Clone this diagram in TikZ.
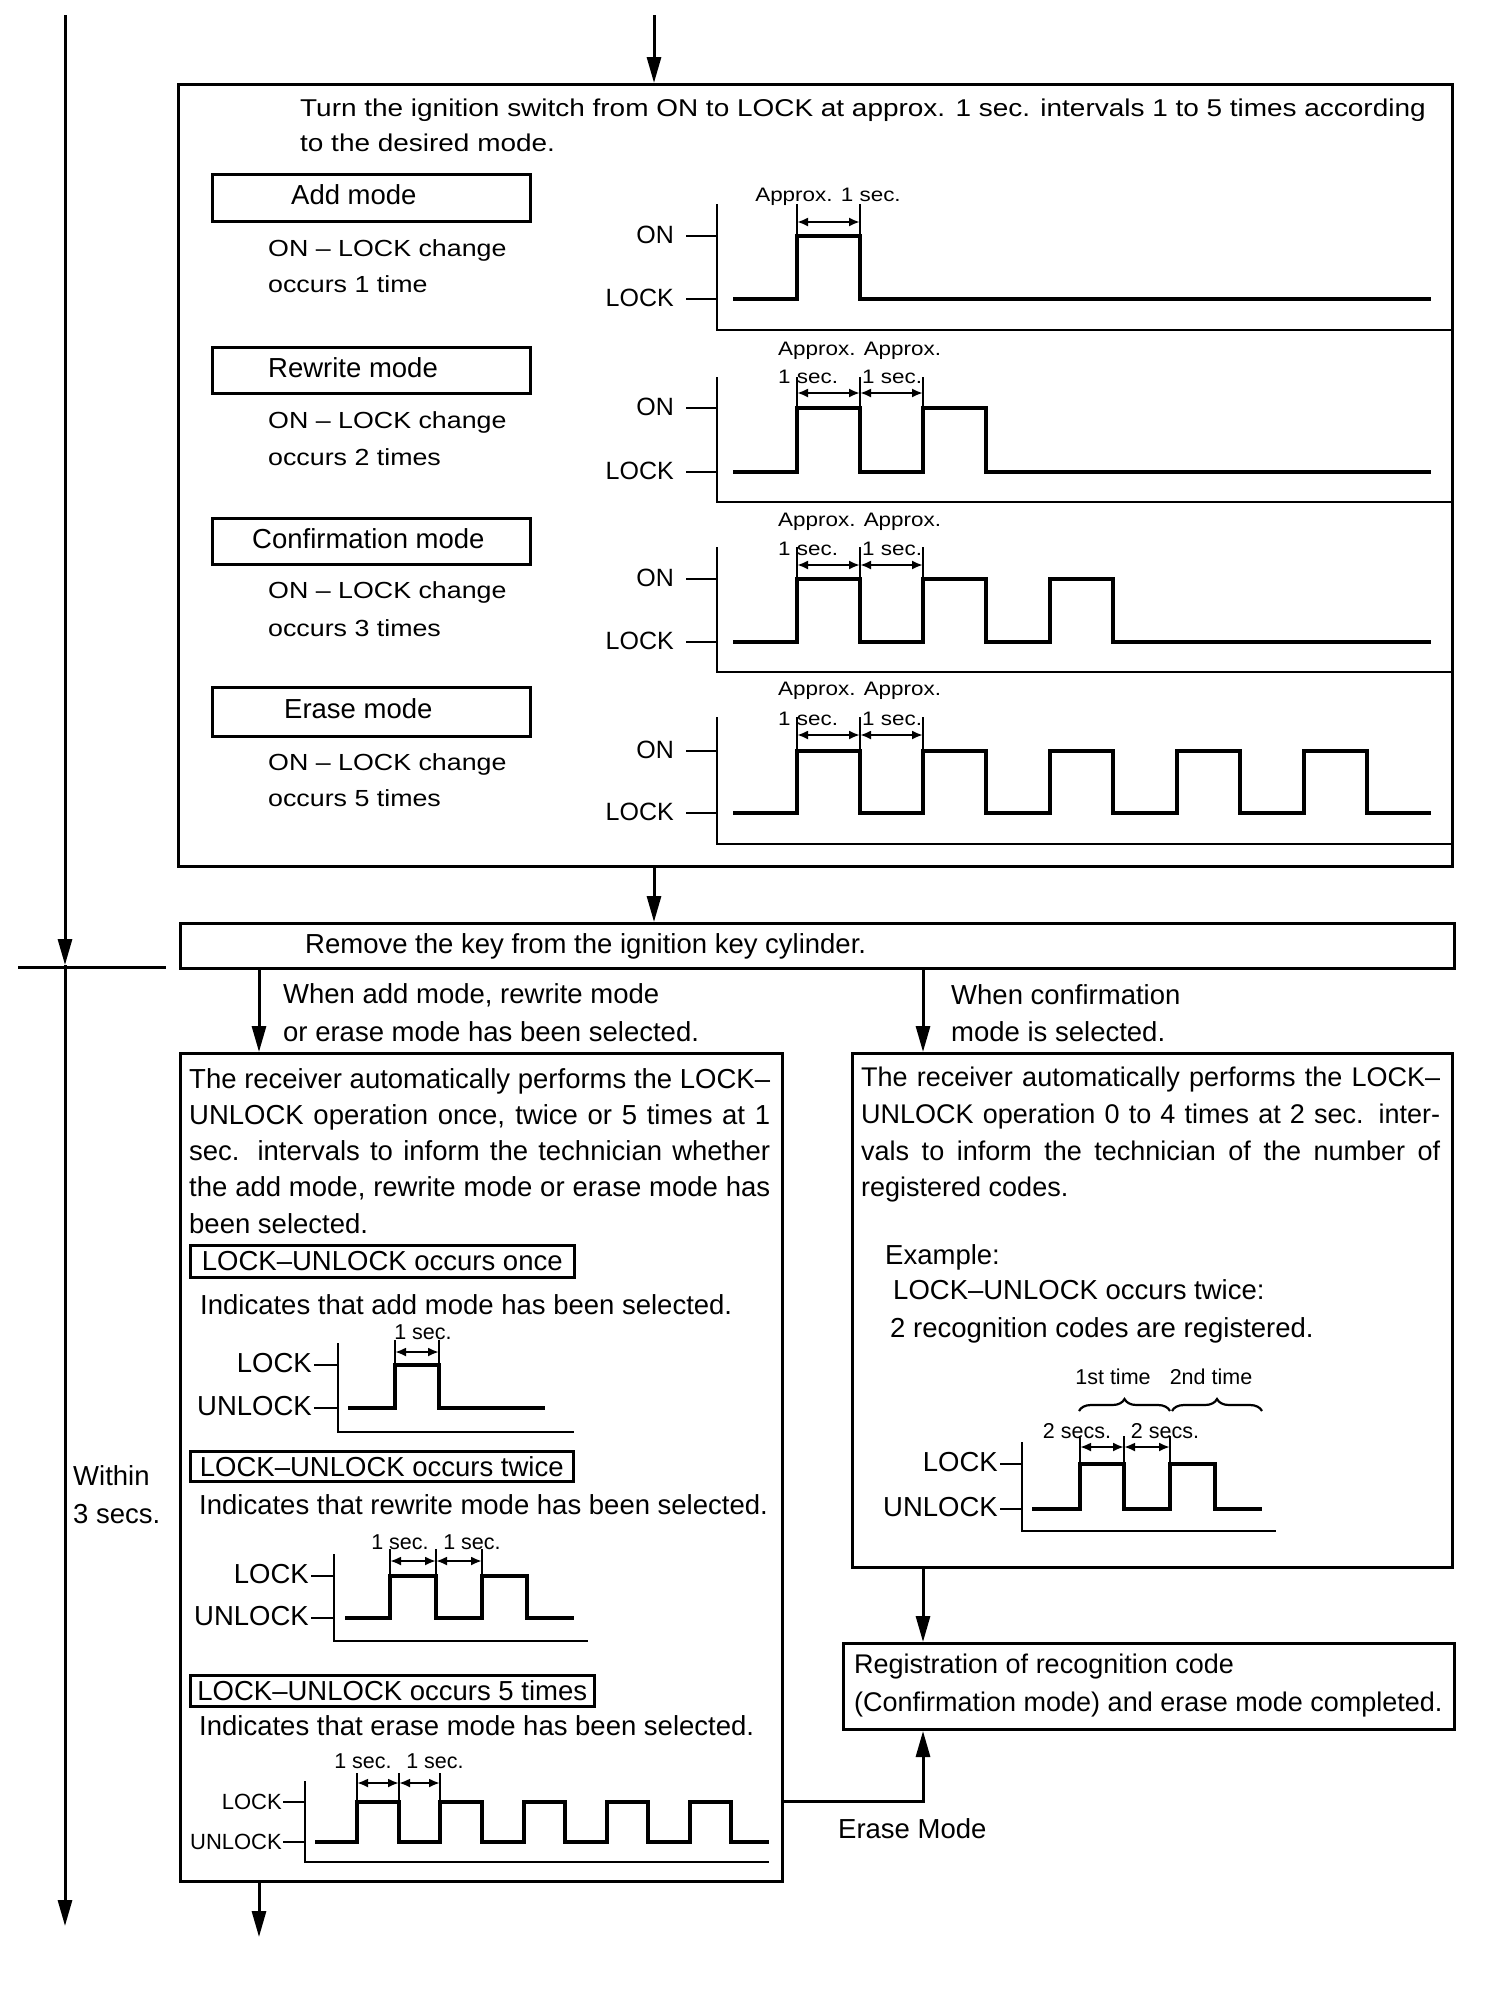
\documentclass[tikz,border=0pt]{standalone}
\usepackage{fontspec}
\setmainfont{Liberation Sans}
\newfontfamily\mywide[FakeStretch=1.15]{Liberation Sans}
\usetikzlibrary{arrows.meta,decorations.pathreplacing}
\newcommand\myBody{\fontsize{27.5}{36}\selectfont}
\newcommand\myRight{\fontsize{27}{36}\selectfont}
\newcommand\myTop{\mywide\fontsize{24.3}{30}\selectfont}
\newcommand\myMode{\mywide\fontsize{23.3}{30}\selectfont}
\newcommand\myApx{\mywide\fontsize{19.5}{24}\selectfont}
\newcommand\mySec{\fontsize{21.5}{26}\selectfont}
\newcommand\myLbl{\fontsize{25}{30}\selectfont}
\newcommand\mySmall{\fontsize{22}{26}\selectfont}
\tikzset{
 box/.style={draw, line width=3pt, inner sep=0pt, anchor=north west},
 tbox/.style={draw, line width=2.6pt, inner sep=0pt, anchor=north west, font=\myBody},
 conn/.style={line width=3pt, -{Triangle[length=26pt,width=14pt]}},
 plain/.style={line width=3pt},
 sig/.style={line width=3.4pt},
 ax/.style={line width=2.8pt},
 dimv/.style={line width=2.2pt},
 dima/.style={line width=2.4pt, {Latex[length=11pt,width=9pt]}-{Latex[length=11pt,width=9pt]}},
 txt/.style={inner sep=0pt, anchor=mid west, font=\myBody, yshift=-6pt},
 lbl/.style={inner sep=0pt, anchor=mid east, yshift=-5pt},
 ctr/.style={inner sep=0pt, anchor=mid, yshift=-5pt},
 brc/.style={line width=2.2pt, decorate, decoration={brace, amplitude=12pt}},
}
\begin{document}
\begin{tikzpicture}[x=1pt,y=-1pt]
\fill[white] (0,0) rectangle (1504,1992);
\useasboundingbox (0,0) rectangle (1504,1992);

% ---------- main boxes ----------
\node[box, minimum width=1274pt, minimum height=782pt] (topbox) at (177,83) {};
\node[box, minimum width=1274pt, minimum height=45pt] (remove) at (179,922) {};
\node[box, minimum width=602pt, minimum height=828pt] (leftbox) at (179,1052) {};
\node[box, minimum width=600pt, minimum height=514pt] (rightbox) at (851,1052) {};
\node[box, minimum width=611pt, minimum height=86pt] (regbox) at (842,1642) {};

% ---------- connectors ----------
\coordinate (topin) at (654,15);
\draw[conn] (topin) -- (topin |- topbox.north);
\coordinate (c1) at (654,0);
\draw[conn] (topbox.south -| c1) -- (remove.north -| c1);
\coordinate (c2) at (259,0);
\draw[conn] (remove.south -| c2) -- (leftbox.north -| c2);
\coordinate (c3) at (923,0);
\draw[conn] (remove.south -| c3) -- (rightbox.north -| c3);
\draw[conn] (rightbox.south -| c3) -- (regbox.north -| c3);
\coordinate (em) at (923,1801);
\draw[conn] (leftbox.east |- em) -- (em) -- (regbox.south -| em);
\coordinate (lbout) at (259,1937);
\draw[conn] (leftbox.south -| lbout) -- (lbout);
\coordinate (ls) at (65,15);
\coordinate (lm) at (65,965);
\coordinate (le) at (65,1926);
\draw[conn] (ls) -- (lm);
\draw[conn] (lm) -- (le);
\coordinate (sepa) at (18,967);
\coordinate (sepb) at (166,967);
\draw[plain] (sepa) -- (sepb);

% ---------- top box texts ----------
\node[txt, font=\myTop] (t1) at (300,108) {Turn the ignition switch from ON to LOCK at approx. 1 sec. intervals 1 to 5 times according};
\node[txt, font=\myTop] (t2) at (300,143) {to the desired mode.};

\node[box, line width=3pt, minimum width=318pt, minimum height=47pt] (mb1) at (211,173) {};
\node[box, line width=3pt, minimum width=318pt, minimum height=46pt] (mb2) at (211,346) {};
\node[box, line width=3pt, minimum width=318pt, minimum height=46pt] (mb3) at (211,517) {};
\node[box, line width=3pt, minimum width=318pt, minimum height=49pt] (mb4) at (211,686) {};
\node[txt] (mt1) at (291,196) {Add mode};
\node[txt] (mt2) at (268,369) {Rewrite mode};
\node[txt] (mt3) at (252,540) {Confirmation mode};
\node[txt] (mt4) at (284,710) {Erase mode};

\node[txt, font=\myMode] (d1a) at (268,248) {ON – LOCK change};
\node[txt, font=\myMode] (d1b) at (268,284) {occurs 1 time};
\node[txt, font=\myMode] (d2a) at (268,420) {ON – LOCK change};
\node[txt, font=\myMode] (d2b) at (268,457) {occurs 2 times};
\node[txt, font=\myMode] (d3a) at (268,590) {ON – LOCK change};
\node[txt, font=\myMode] (d3b) at (268,628) {occurs 3 times};
\node[txt, font=\myMode] (d4a) at (268,762) {ON – LOCK change};
\node[txt, font=\myMode] (d4b) at (268,798) {occurs 5 times};

% ---------- top chart 1 ----------
\draw[ax] (717,204) -- (717,330) -- (1451,330);
\draw[ax] (686,236) -- (717,236) (686,299) -- (717,299);
\node[lbl, font=\myLbl] (on1) at (674,236) {ON};
\node[lbl, font=\myLbl] (lk1) at (674,299) {LOCK};
\draw[sig] (733,299) -- (797,299) -- (797,236) -- (860,236) -- (860,299) -- (1431,299);
\draw[dimv] (797,204) -- (797,236) (860,204) -- (860,236);
\draw[dima] (797,222) -- (860,222);
\node[ctr, font=\myApx] (a1) at (828,194) {Approx. 1 sec.};

% ---------- top chart 2 ----------
\draw[ax] (717,377) -- (717,502) -- (1451,502);
\draw[ax] (686,408) -- (717,408) (686,472) -- (717,472);
\node[lbl, font=\myLbl] (on2) at (674,408) {ON};
\node[lbl, font=\myLbl] (lk2) at (674,472) {LOCK};
\draw[sig] (733,472) -- (797,472) -- (797,408) -- (860,408) -- (860,472) -- (923,472) -- (923,408) -- (986,408) -- (986,472) -- (1431,472);
\draw[dimv] (797,377) -- (797,408) (860,377) -- (860,408) (923,377) -- (923,408);
\draw[dima] (797,393) -- (860,393);
\draw[dima] (860,393) -- (923,393);
\node[txt, font=\myApx] (a2) at (778,347) {Approx. Approx.};
\node[txt, font=\myApx] (a2b) at (778,375) {1 sec.};
\node[txt, font=\myApx] (a2c) at (862,375) {1 sec.};

% ---------- top chart 3 ----------
\draw[ax] (717,547) -- (717,672) -- (1451,672);
\draw[ax] (686,579) -- (717,579) (686,642) -- (717,642);
\node[lbl, font=\myLbl] (on3) at (674,579) {ON};
\node[lbl, font=\myLbl] (lk3) at (674,642) {LOCK};
\draw[sig] (733,642) -- (797,642) -- (797,579) -- (860,579) -- (860,642) -- (923,642) -- (923,579) -- (986,579) -- (986,642) -- (1050,642) -- (1050,579) -- (1113,579) -- (1113,642) -- (1431,642);
\draw[dimv] (797,547) -- (797,579) (860,547) -- (860,579) (923,547) -- (923,579);
\draw[dima] (797,565) -- (860,565);
\draw[dima] (860,565) -- (923,565);
\node[txt, font=\myApx] (a3) at (778,518) {Approx. Approx.};
\node[txt, font=\myApx] (a3b) at (778,547) {1 sec.};
\node[txt, font=\myApx] (a3c) at (862,547) {1 sec.};

% ---------- top chart 4 ----------
\draw[ax] (717,717) -- (717,844) -- (1451,844);
\draw[ax] (686,751) -- (717,751) (686,813) -- (717,813);
\node[lbl, font=\myLbl] (on4) at (674,751) {ON};
\node[lbl, font=\myLbl] (lk4) at (674,813) {LOCK};
\draw[sig] (733,813) -- (797,813) -- (797,751) -- (860,751) -- (860,813) -- (923,813) -- (923,751) -- (986,751) -- (986,813) -- (1050,813) -- (1050,751) -- (1113,751) -- (1113,813) -- (1177,813) -- (1177,751) -- (1240,751) -- (1240,813) -- (1304,813) -- (1304,751) -- (1367,751) -- (1367,813) -- (1431,813);
\draw[dimv] (797,717) -- (797,751) (860,717) -- (860,751) (923,717) -- (923,751);
\draw[dima] (797,735) -- (860,735);
\draw[dima] (860,735) -- (923,735);
\node[txt, font=\myApx] (a4) at (778,687) {Approx. Approx.};
\node[txt, font=\myApx] (a4b) at (778,717) {1 sec.};
\node[txt, font=\myApx] (a4c) at (862,717) {1 sec.};

% ---------- remove box and branch labels ----------
\node[txt] (rt) at (305,945) {Remove the key from the ignition key cylinder.};
\node[txt] (w1) at (283,995) {When add mode, rewrite mode};
\node[txt] (w2) at (283,1033) {or erase mode has been selected.};
\node[txt] (w3) at (951,996) {When confirmation};
\node[txt] (w4) at (951,1033) {mode is selected.};
\node[txt] (wi1) at (73,1477) {Within};
\node[txt] (wi2) at (73,1515) {3 secs.};
\node[txt] (er) at (838,1830) {Erase Mode};

% ---------- left box ----------
\node[txt] (lp1) at (189,1080) {\makebox[581pt][s]{The receiver automatically performs the LOCK–}};
\node[txt] (lp2) at (189,1116) {\makebox[581pt][s]{UNLOCK operation once, twice or 5 times at 1}};
\node[txt] (lp3) at (189,1152) {\makebox[581pt][s]{sec. intervals to inform the technician whether}};
\node[txt] (lp4) at (189,1188) {\makebox[581pt][s]{the add mode, rewrite mode or erase mode has}};
\node[txt] (lp5) at (189,1225) {been selected.};

\node[tbox, minimum width=384pt, minimum height=32pt] (lb1) at (189,1244) {LOCK–UNLOCK occurs once};
\node[txt] (ind1) at (200,1306) {Indicates that add mode has been selected.};
% chart A
\draw[ax] (338,1343) -- (338,1432) -- (574,1432);
\draw[ax] (314,1365) -- (338,1365) (314,1408) -- (338,1408);
\node[lbl, font=\myBody] (la1) at (312,1365) {LOCK};
\node[lbl, font=\myBody] (la2) at (312,1408) {UNLOCK};
\draw[sig] (348,1408) -- (395,1408) -- (395,1365) -- (439,1365) -- (439,1408) -- (545,1408);
\draw[dimv] (395,1340) -- (395,1365) (439,1340) -- (439,1365);
\draw[dima] (395,1352) -- (439,1352);
\node[ctr, font=\mySec] (sa) at (423,1332) {1 sec.};

\node[tbox, minimum width=383pt, minimum height=30pt] (lb2) at (189,1450) {LOCK–UNLOCK occurs twice};
\node[txt] (ind2) at (199,1506) {Indicates that rewrite mode has been selected.};
% chart B
\draw[ax] (334,1554) -- (334,1641) -- (588,1641);
\draw[ax] (311,1576) -- (334,1576) (311,1618) -- (334,1618);
\node[lbl, font=\myBody] (lb2a) at (309,1576) {LOCK};
\node[lbl, font=\myBody] (lb2b) at (309,1618) {UNLOCK};
\draw[sig] (345,1618) -- (390,1618) -- (390,1576) -- (436,1576) -- (436,1618) -- (482,1618) -- (482,1576) -- (527,1576) -- (527,1618) -- (574,1618);
\draw[dimv] (390,1549) -- (390,1576) (436,1549) -- (436,1576) (482,1549) -- (482,1576);
\draw[dima] (390,1561) -- (436,1561);
\draw[dima] (436,1561) -- (482,1561);
\node[ctr, font=\mySec] (sb1) at (400,1542) {1 sec.};
\node[ctr, font=\mySec] (sb2) at (472,1542) {1 sec.};

\node[tbox, minimum width=404pt, minimum height=31pt] (lb3) at (189,1674) {LOCK–UNLOCK occurs 5 times};
\node[txt] (ind3) at (199,1727) {Indicates that erase mode has been selected.};
% chart C
\draw[ax] (305,1781) -- (305,1862) -- (769,1862);
\draw[ax] (283,1802) -- (305,1802) (283,1842) -- (305,1842);
\node[lbl, font=\mySmall] (lc1) at (282,1802) {LOCK};
\node[lbl, font=\mySmall] (lc2) at (282,1842) {UNLOCK};
\draw[sig] (315,1842) -- (357,1842) -- (357,1802) -- (399,1802) -- (399,1842) -- (440,1842) -- (440,1802) -- (482,1802) -- (482,1842) -- (524,1842) -- (524,1802) -- (565,1802) -- (565,1842) -- (607,1842) -- (607,1802) -- (648,1802) -- (648,1842) -- (690,1842) -- (690,1802) -- (731,1802) -- (731,1842) -- (769,1842);
\draw[dimv] (357,1773) -- (357,1802) (399,1773) -- (399,1802) (440,1773) -- (440,1802);
\draw[dima] (357,1783) -- (399,1783);
\draw[dima] (399,1783) -- (440,1783);
\node[ctr, font=\mySec] (sc1) at (363,1761) {1 sec.};
\node[ctr, font=\mySec] (sc2) at (435,1761) {1 sec.};

% ---------- right box ----------
\node[txt, font=\myRight] (rp1) at (861,1078) {\makebox[579pt][s]{The receiver automatically performs the LOCK–}};
\node[txt, font=\myRight] (rp2) at (861,1115) {\makebox[579pt][s]{UNLOCK operation 0 to 4 times at 2 sec. inter-}};
\node[txt, font=\myRight] (rp3) at (861,1152) {\makebox[579pt][s]{vals to inform the technician of the number of}};
\node[txt, font=\myRight] (rp4) at (861,1188) {registered codes.};
\node[txt] (ex1) at (885,1256) {Example:};
\node[txt] (ex2) at (893,1291) {LOCK–UNLOCK occurs twice:};
\node[txt] (ex3) at (890,1329) {2 recognition codes are registered.};
% right chart
\node[ctr, font=\mySec] (st1) at (1113,1377) {1st time};
\node[ctr, font=\mySec] (st2) at (1211,1377) {2nd time};
\draw[brc] (1079,1411) -- (1170,1411);
\draw[brc] (1172,1411) -- (1262,1411);
\draw[ax] (1022,1442) -- (1022,1531) -- (1276,1531);
\draw[ax] (1000,1464) -- (1022,1464) (1000,1509) -- (1022,1509);
\node[lbl, font=\myBody] (lr1) at (998,1464) {LOCK};
\node[lbl, font=\myBody] (lr2) at (998,1509) {UNLOCK};
\draw[sig] (1032,1509) -- (1080,1509) -- (1080,1464) -- (1124,1464) -- (1124,1509) -- (1170,1509) -- (1170,1464) -- (1215,1464) -- (1215,1509) -- (1262,1509);
\draw[dimv] (1080,1436) -- (1080,1464) (1124,1436) -- (1124,1464) (1170,1436) -- (1170,1464);
\draw[dima] (1080,1447) -- (1124,1447);
\draw[dima] (1124,1447) -- (1170,1447);
\node[ctr, font=\mySec] (s2a) at (1077,1431) {2 secs.};
\node[ctr, font=\mySec] (s2b) at (1165,1431) {2 secs.};

% ---------- registration box ----------
\node[txt, font=\myRight] (rg1) at (854,1665) {Registration of recognition code};
\node[txt, font=\myRight] (rg2) at (854,1703) {(Confirmation mode) and erase mode completed.};
\end{tikzpicture}
\end{document}
